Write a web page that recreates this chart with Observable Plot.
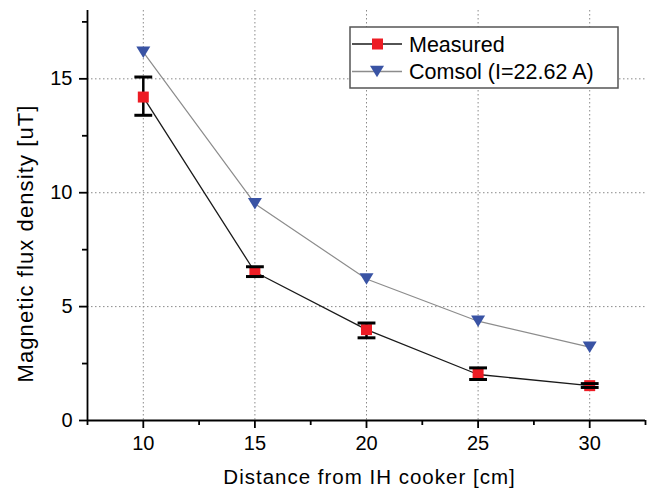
<!DOCTYPE html>
<html><head><meta charset="utf-8">
<script src="https://cdn.jsdelivr.net/npm/d3@7"></script>
<script src="https://cdn.jsdelivr.net/npm/@observablehq/plot@0.6"></script>
<style>body{margin:0;background:#fff} #chart{width:656px;height:491px}</style>
</head><body><div id="chart"></div>
<script>
const distance = [10, 15, 20, 25, 30];
const measured = [14.2, 6.52, 3.99, 2.02, 1.53];
const measuredLow = [13.4, 6.32, 3.63, 1.8, 1.45];
const measuredHigh = [15.08, 6.75, 4.28, 2.31, 1.62];
const comsol = [16.17, 9.52, 6.21, 4.36, 3.22];
const xMajorTicks = [10, 15, 20, 25, 30];
const xMinorTicks = [7.5, 12.5, 17.5, 22.5, 27.5, 32.5];
const yMajorTicks = [0, 5, 10, 15];
const yMinorTicks = [2.5, 7.5, 12.5, 17.5];
const seriesNames = ["Measured", "Comsol (I=22.62 A)"];
const seriesColors = ["#ed1c24", "#3953a4"];
const xLabel = "Distance from IH cooker [cm]";
const yLabel = "Magnetic flux density [uT]";

const measuredData = distance.map((x, i) => ({x, y: measured[i], lo: measuredLow[i], hi: measuredHigh[i]}));
const comsolData = distance.map((x, i) => ({x, y: comsol[i]}));
const capHalf = 0.4;

const triangleDown = {
  draw(ctx, size) {
    const r = Math.sqrt(size / Math.PI);
    const w = r, h = r * 0.82;
    ctx.moveTo(-w, -h); ctx.lineTo(w, -h); ctx.lineTo(0, h); ctx.closePath();
  }
};

const font = "'Liberation Sans', Arial, sans-serif";
const gridStyle = {stroke: "#8a8a8a", strokeOpacity: 1, strokeDasharray: "1.5,2.5", strokeWidth: 1};

const plot = Plot.plot({
  width: 656, height: 491,
  marginLeft: 87, marginRight: 11, marginTop: 10, marginBottom: 71,
  style: {fontFamily: font, fontSize: "20px", color: "#000", background: "#fff"},
  x: {domain: [7.5, 32.5], label: null},
  y: {domain: [0, 18], label: null},
  marks: [
    Plot.gridX(xMajorTicks, gridStyle),
    Plot.gridY(yMajorTicks.filter(v => v > 0), gridStyle),
    Plot.axisX(xMajorTicks, {tickSize: 8, tickPadding: 7, strokeWidth: 1.8, fontSize: 20, label: null}),
    Plot.axisX(xMinorTicks, {tickSize: 5, text: null, strokeWidth: 1.8, label: null}),
    Plot.axisY(yMajorTicks, {tickSize: 8, tickPadding: 7, strokeWidth: 1.8, fontSize: 20, label: null}),
    Plot.axisY(yMinorTicks, {tickSize: 5, text: null, strokeWidth: 1.8, label: null}),
    Plot.ruleY([0], {stroke: "#000", strokeWidth: 1.8}),
    Plot.ruleX([7.5], {stroke: "#000", strokeWidth: 1.8}),
    Plot.line(comsolData, {x: "x", y: "y", stroke: "#8c8c8c", strokeWidth: 1.2}),
    Plot.line(measuredData, {x: "x", y: "y", stroke: "#1a1a1a", strokeWidth: 1.3}),
    Plot.ruleX(measuredData, {x: "x", y1: "lo", y2: "hi", stroke: "#000", strokeWidth: 2.5}),
    Plot.dot(measuredData, {x: "x", y: "y", symbol: "square", r: 6.2, fill: seriesColors[0]}),
    Plot.link(measuredData, {x1: d => d.x - capHalf, x2: d => d.x + capHalf, y1: "lo", y2: "lo", stroke: "#000", strokeWidth: 3}),
    Plot.link(measuredData, {x1: d => d.x - capHalf, x2: d => d.x + capHalf, y1: "hi", y2: "hi", stroke: "#000", strokeWidth: 3}),
    Plot.dot(comsolData, {x: "x", y: "y", symbol: triangleDown, r: 7, fill: seriesColors[1]}),
    Plot.text([yLabel], {text: d => d, frameAnchor: "left", rotate: -90, dx: -62, dy: 28, fontSize: 22, lineAnchor: "middle", textAnchor: "middle", fill: "#000"}),
    Plot.text([xLabel], {text: d => d, frameAnchor: "bottom", dx: 3, dy: 57, fontSize: 20.5, lineAnchor: "middle", textAnchor: "middle", fill: "#000"})
  ]
});
document.getElementById("chart").appendChild(plot);

const svg = d3.select(plot);
svg.selectAll("text").filter(function() { return this.textContent === yLabel; }).attr("letter-spacing", "1.1px");
svg.selectAll("text").filter(function() { return this.textContent === xLabel; }).attr("letter-spacing", "1px");

// legend inside the plot area (top right)
const lg = svg.append("g").attr("transform", "translate(350,27)").attr("font-family", font).attr("text-anchor", "start");
lg.append("rect").attr("width", 268).attr("height", 61).attr("fill", "#fff").attr("stroke", "#555").attr("stroke-width", 1.5);
const rows = [17, 44.5];
seriesNames.forEach((name, i) => {
  const g = lg.append("g").attr("transform", `translate(0,${rows[i]})`);
  g.append("line").attr("x1", 2).attr("x2", 52).attr("stroke", i === 0 ? "#1a1a1a" : "#8c8c8c").attr("stroke-width", 1.3);
  if (i === 0) {
    g.append("rect").attr("x", 22).attr("y", -5.5).attr("width", 11).attr("height", 11).attr("fill", seriesColors[0]);
  } else {
    g.append("path").attr("d", "M20,-5.7L34,-5.7L27,5.7Z").attr("fill", seriesColors[1]);
  }
  g.append("text").attr("x", 59).attr("y", 0).attr("dy", "0.35em").attr("text-anchor", "start").attr("font-size", 21.5).attr("fill", "#000").text(name);
});
</script>
</body></html>
